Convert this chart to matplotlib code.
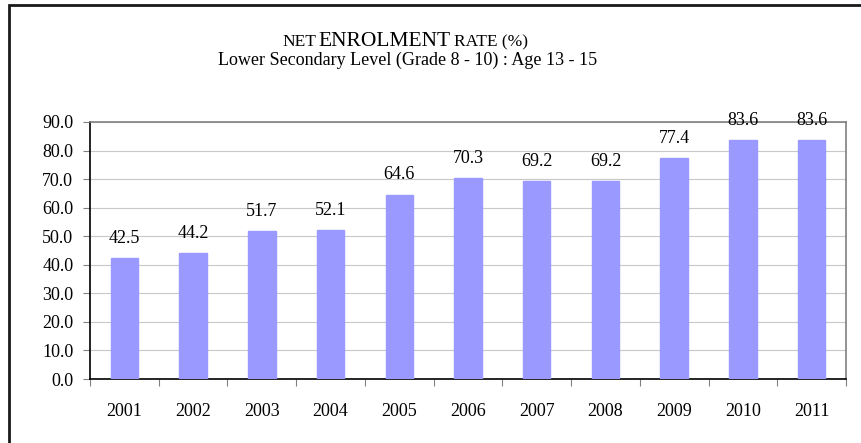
import matplotlib
matplotlib.use("Agg")
import matplotlib.pyplot as plt
from matplotlib.patches import Rectangle
from matplotlib.ticker import FixedLocator
import numpy as np

years = ["2001", "2002", "2003", "2004", "2005", "2006", "2007", "2008", "2009", "2010", "2011"]
rates = [42.5, 44.2, 51.7, 52.1, 64.6, 70.3, 69.2, 69.2, 77.4, 83.6, 83.6]
yticks = [0, 10, 20, 30, 40, 50, 60, 70, 80, 90]

W, H = 862, 443
fig = plt.figure(figsize=(W / 100, H / 100), dpi=100)
plt.rcParams['font.family'] = ['Liberation Serif', 'DejaVu Serif']

# outer frame (extends beyond right/bottom edges)
fig.patches.append(Rectangle((9 / W, -0.1), 1.2, (H - 5) / H + 0.1, transform=fig.transFigure,
                             fill=False, edgecolor='#1a1a1a', linewidth=2.0, zorder=0))

left, right, top, bottom = 90, 846, 122, 379
ax = fig.add_axes([left / W, 1 - bottom / H, (right - left) / W, (bottom - top) / H])

FS = 13
x = np.arange(len(years))
ax.bar(x, rates, width=0.4, color='#9999FF', edgecolor='#9999FF', zorder=3)
for xi, v in zip(x, rates):
    ax.annotate(f"{v:.1f}", (xi, v), xytext=(0, 8), textcoords='offset points',
                ha='center', va='bottom', fontsize=FS, color='black', zorder=4,
                annotation_clip=False)

ax.set_xlim(-0.5, len(years) - 0.5)
ax.set_ylim(0, 90)
ax.set_yticks(yticks)
ax.set_yticklabels([f"{t:.1f}" for t in yticks])
ax.set_xticks(x)
ax.set_xticklabels(years)
ax.xaxis.set_minor_locator(FixedLocator(np.arange(-0.5, len(years), 1.0)))
ax.tick_params(axis='x', which='major', length=0, pad=17, labelsize=FS)
ax.tick_params(axis='x', which='minor', length=5, width=0.8, color='#808080', direction='out')
ax.tick_params(axis='y', length=5, width=0.8, color='#808080', direction='out', pad=7, labelsize=FS)
ax.grid(axis='y', color='#c8c8c8', linewidth=0.8, zorder=0)
ax.set_axisbelow(True)
for s in ['top', 'right']:
    ax.spines[s].set_color('#808080')
    ax.spines[s].set_linewidth(1.2)
for s in ['left', 'bottom']:
    ax.spines[s].set_color('black')
    ax.spines[s].set_linewidth(1.2)

# title with small caps style
fig.text(282 / W, 1 - 46 / H, "NET", fontsize=12.5, ha='left', va='baseline')
fig.text(318 / W, 1 - 46 / H, "ENROLMENT", fontsize=15.5, ha='left', va='baseline')
fig.text(454 / W, 1 - 46 / H, "RATE (%)", fontsize=12.5, ha='left', va='baseline')
fig.text(408 / W, 1 - 65 / H, "Lower Secondary Level (Grade 8 - 10) : Age 13 - 15",
         fontsize=FS, ha='center', va='baseline')

fig.savefig("out.png", dpi=100)
